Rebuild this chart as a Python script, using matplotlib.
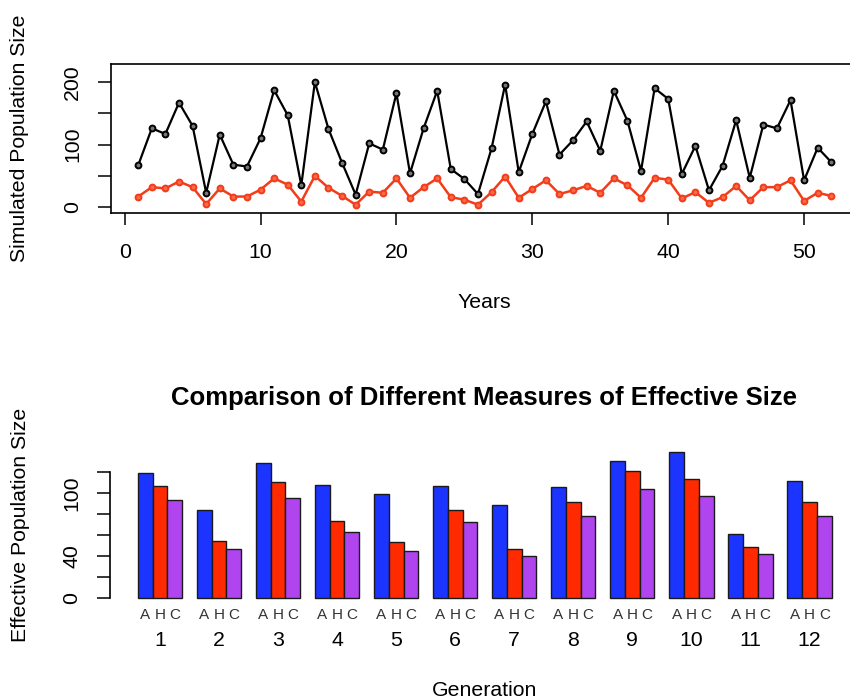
import matplotlib
matplotlib.use("Agg")
import matplotlib.pyplot as plt
import matplotlib.transforms as mtransforms
import numpy as np

plt.rcParams['font.family'] = ['Liberation Sans', 'DejaVu Sans']

# ---- data ----
years = list(range(1, 53))
census = [67, 126, 117, 167, 130, 23, 116, 68, 65, 110, 187, 147, 35, 200, 125, 71, 20, 102, 92, 182,
          54, 126, 186, 61, 45, 21, 94, 196, 56, 117, 169, 84, 107, 137, 90, 186, 138, 58, 190, 173,
          53, 98, 27, 66, 139, 47, 132, 126, 171, 43, 95, 72]
effective = [17, 32, 30, 41, 32, 5, 30, 17, 17, 28, 46, 36, 9, 50, 31, 18, 4, 25, 23, 46,
             15, 32, 46, 16, 12, 4, 24, 49, 15, 29, 43, 21, 27, 34, 23, 46, 35, 15, 47, 44,
             14, 24, 7, 16, 34, 11, 32, 32, 43, 10, 23, 18]

generations = [str(g) for g in range(1, 13)]
measure_letters = ["A", "H", "C"]
ne_A = [119, 84, 128, 108, 99, 107, 89, 106, 130, 139, 61, 111]
ne_H = [107, 54, 110, 73, 53, 84, 47, 91, 121, 113, 49, 91]
ne_C = [93, 47, 95, 63, 45, 72, 40, 78, 104, 97, 42, 78]

top_xticks = [0, 10, 20, 30, 40, 50]
top_yticks = [0, 50, 100, 150, 200]
top_ylabels = ["0", "", "100", "", "200"]
bot_yticks = [0, 20, 40, 60, 80, 100, 120]
bot_ylabels = ["0", "", "40", "", "", "100", ""]

W, H = 850, 700
fig = plt.figure(figsize=(8.5, 7), dpi=100)

def px_axes(left, right, top, bottom):
    return fig.add_axes([left / W, 1 - bottom / H, (right - left) / W, (bottom - top) / H])

FS = 15.3
# ---- top panel ----
ax1 = px_axes(110.5, 859, 64, 212.7)
ax1.plot(years, census, color='black', lw=1.6, marker='o', ms=4.2,
         mfc='#777777', mec='black', mew=1.4)
ax1.plot(years, effective, color='#f23c1a', lw=1.8, marker='o', ms=4.2,
         mfc='#f86a4a', mec='#f23c1a', mew=1.4)
ax1.set_xlim(-1.04, 54.04)
ax1.set_ylim(-8.8, 228.8)
ax1.set_xticks(top_xticks)
ax1.set_xticklabels([str(t) for t in top_xticks], fontsize=FS)
ax1.set_yticks(top_yticks)
ax1.set_yticklabels(top_ylabels, fontsize=FS, rotation=90, va='center')
ax1.tick_params(axis='x', length=8.5, width=1.1, pad=13.5)
ax1.tick_params(axis='y', length=9.5, width=1.1, pad=11)
for s in ax1.spines.values():
    s.set_linewidth(1.2)
fig.text(484.5 / W, 1 - 303 / H, "Years", ha='center', va='center', fontsize=FS)
fig.text(20 / W, 1 - 138 / H, "Simulated Population Size", ha='center', va='center',
         rotation=90, fontsize=FS)

# ---- bottom panel ----
ax2 = px_axes(110, 859.4, 446, 604.2)
n = len(generations)
series = [ne_A, ne_H, ne_C]
colors = ['#1c34ff', '#ff2a00', '#b044ef']
for i, (vals, col) in enumerate(zip(series, colors)):
    lefts = [1 + 4 * g + i for g in range(n)]
    ax2.bar(lefts, vals, width=1.0, align='edge', color=col, edgecolor='#1a1a1a', linewidth=1.0)
ymax = max(max(s) for s in series)
ax2.set_xlim(1 - 0.04 * 47, 48 + 0.04 * 47)
ax2.set_ylim(-0.04 * ymax, ymax * 1.04)
for side in ['top', 'right', 'bottom']:
    ax2.spines[side].set_visible(False)
ax2.spines['left'].set_bounds(0, 120)
ax2.spines['left'].set_linewidth(1.2)
ax2.set_xticks([])
ax2.set_yticks(bot_yticks)
ax2.set_yticklabels(bot_ylabels, fontsize=FS, rotation=90, va='center')
ax2.tick_params(axis='y', length=9.5, width=1.1, pad=11)

trans = mtransforms.blended_transform_factory(ax2.transData, fig.transFigure)
for g in range(n):
    for i, letter in enumerate(measure_letters):
        ax2.text(1 + 4 * g + i + 0.5, 1 - 615 / H, letter, transform=trans,
                 ha='center', va='center', fontsize=11, color='#333333')
    ax2.text(1 + 4 * g + 1.5, 1 - 640 / H, generations[g], transform=trans,
             ha='center', va='center', fontsize=FS)

fig.text(484.5 / W, 1 - 398 / H, "Comparison of Different Measures of Effective Size",
         ha='center', va='center', fontsize=18.5, fontweight='bold')
fig.text(484.5 / W, 1 - 690 / H, "Generation", ha='center', va='center', fontsize=FS)
fig.text(21 / W, 1 - 525 / H, "Effective Population Size", ha='center', va='center',
         rotation=90, fontsize=FS)

fig.savefig("out.png", dpi=100)
